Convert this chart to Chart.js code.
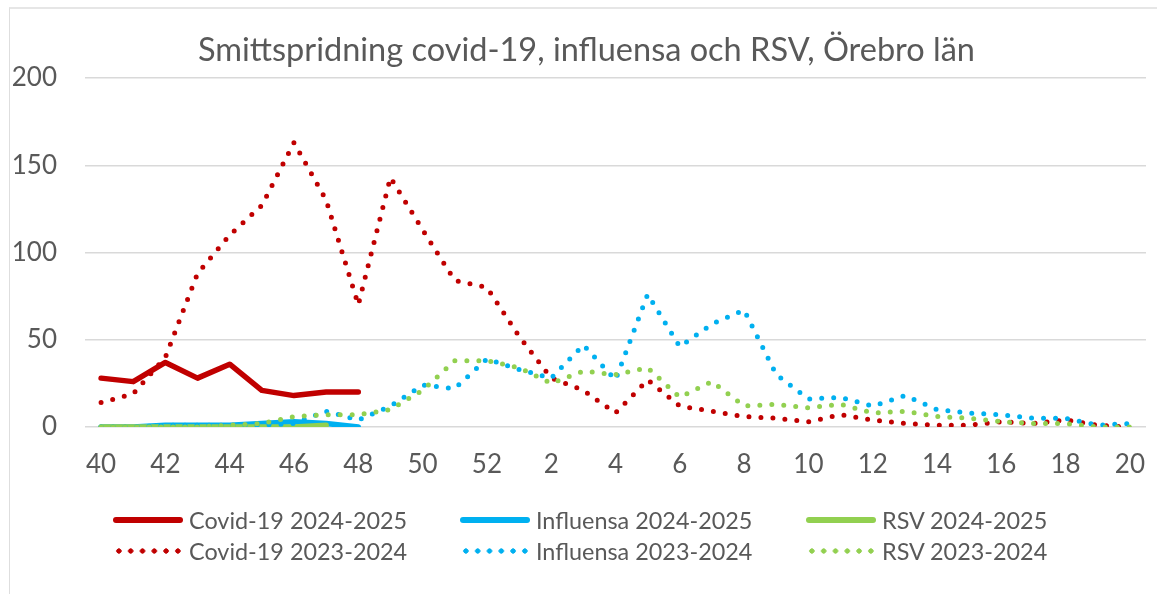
<!DOCTYPE html>
<html>
<head>
<meta charset="utf-8">
<script src="https://cdn.jsdelivr.net/npm/chart.js@4/dist/chart.umd.min.js"></script>
<style>
    html, body {margin: 0; padding: 0; background: #fff; overflow: hidden;}
    #frame {position: absolute; left: 9px; top: 7px; width: 1200px; height: 700px;
        border-left: 1px solid #dedede; border-top: 2px solid #e6e6e6;}
    #chart_smitta {position: absolute; left: 0; top: 0;}
    #legend {position: absolute; left: 0; top: 0; font-family: Lato, sans-serif; font-size: 23.4px; color: #595959;}
    #legend .item {position: absolute; display: flex; align-items: center; height: 30px; white-space: nowrap;}
    #legend .mark {width: 70px; height: 6px; margin-right: 6px;}
</style>
</head>
<body>
<div id="frame"></div>
<canvas id="chart_smitta" width="1157" height="594"></canvas>
<div id="legend"></div>
<script>
'use strict';

const WEEKS = ['40', '41', '42', '43', '44', '45', '46', '47', '48', '49', '50', '51', '52',
    '1', '2', '3', '4', '5', '6', '7', '8', '9', '10', '11', '12', '13', '14', '15', '16', '17', '18', '19', '20'];

const covid2425 = [28, 26, 37, 28, 36, 21, 18, 20, 20];
const influensa2425 = [0, 0, 1, 1, 1, 2, 3, 2, 0];
const rsv2425 = [0, 0, 0, 0, 0, 0, 0, 1];

const covid2324 = [14, 19, 40, 88, 110, 127, 163, 130, 70, 143, 113, 84, 80,
    52, 28, 21, 8, 27, 12, 9, 6, 5, 3, 7, 4, 2, 1, 1, 3, 2, 4, 1, 0];
const influensa2324 = [0, 0, 1, 1, 1, 1, 2, 9, 4, 12, 24, 22, 39,
    33, 28, 47, 27, 76, 46, 59, 67, 30, 16, 17, 12, 18, 10, 8, 7, 5, 5, 1, 2];
const rsv2324 = [0, 0, 0, 0, 1, 2, 6, 7, 7, 10, 21, 38, 38,
    34, 25, 32, 30, 34, 17, 26, 12, 13, 11, 13, 8, 9, 6, 5, 3, 2, 2, 0, 0];

const Y_TICKS = [0, 50, 100, 150, 200];

const COLORS = {
    red: '#c00000',
    blue: '#00b0f0',
    green: '#92d050',
    text: '#595959',
    grid: '#d9d9d9'
};

const FONT = 'Lato, "Open Sans", sans-serif';

// the title sits centred on the outer frame, not on the canvas
const titleShift = {
    id: 'titleShift',
    afterLayout(chart) {
        chart.titleBlock.left += 27;
    }
};

function makeDataset(label, data, color, dotted, order) {
    let ds = {
        label: label,
        data: data,
        borderColor: color,
        backgroundColor: color,
        borderWidth: dotted ? 5 : 5.5,
        borderCapStyle: 'round',
        borderJoinStyle: 'round',
        pointRadius: 0,
        pointHoverRadius: 0,
        tension: 0,
        fill: false,
        order: order,
        dotted: dotted
    };
    if (dotted) {
        ds.borderDash = [0, 12];
    }
    return ds;
}

function makeConfig() {
    let datasets = [
        makeDataset('Covid-19 2024-2025', covid2425, COLORS.red, false, 5),
        makeDataset('Influensa 2024-2025', influensa2425, COLORS.blue, false, 4),
        makeDataset('RSV 2024-2025', rsv2425, COLORS.green, false, 3),
        makeDataset('Covid-19 2023-2024', covid2324, COLORS.red, true, 2),
        makeDataset('Influensa 2023-2024', influensa2324, COLORS.blue, true, 1),
        makeDataset('RSV 2023-2024', rsv2324, COLORS.green, true, 0)
    ];
    return {
        type: 'line',
        data: {labels: WEEKS, datasets: datasets},
        plugins: [titleShift],
        options: {
            responsive: false,
            animation: false,
            devicePixelRatio: 1,
            layout: {padding: {left: 0, right: 11, top: 0, bottom: 0}},
            plugins: {
                legend: {display: false},
                tooltip: {enabled: false},
                title: {
                    display: true,
                    text: 'Smittspridning covid-19, influensa och RSV, Örebro län',
                    color: COLORS.text,
                    font: {family: FONT, size: 32.5, weight: 'normal'},
                    padding: {top: 31, bottom: 8}
                }
            },
            scales: {
                x: {
                    offset: true,
                    grid: {display: false, drawTicks: false},
                    border: {display: false},
                    ticks: {
                        autoSkip: false,
                        maxRotation: 0,
                        padding: 0,
                        color: COLORS.text,
                        // tall line box pushes the labels down without eating plot width
                        font: {family: FONT, size: 26, lineHeight: 2.9},
                        callback: (val, i) => i % 2 === 0 ? WEEKS[i] : ''
                    },
                    afterFit: scale => {
                        scale.height = 167;
                    }
                },
                y: {
                    min: 0,
                    max: 200,
                    grid: {color: COLORS.grid, lineWidth: 1.5, drawTicks: false},
                    border: {display: false},
                    afterBuildTicks: scale => {
                        scale.ticks = Y_TICKS.map(v => ({value: v}));
                    },
                    ticks: {
                        padding: 28,
                        color: COLORS.text,
                        font: {family: FONT, size: 26}
                    },
                    afterFit: scale => {
                        scale.width = 85;
                    }
                }
            }
        }
    };
}

function renderLegend(chart) {
    let box = document.getElementById('legend'),
        cols = [113, 460, 806],
        rows = [520, 551];
    chart.data.datasets.forEach((ds, i) => {
        let item = document.createElement('div'),
            mark = document.createElement('span'),
            text = document.createElement('span');
        item.className = 'item';
        item.style.left = cols[i % 3] + 'px';
        item.style.top = (rows[Math.floor(i / 3)] - 15) + 'px';
        mark.className = 'mark';
        if (ds.dotted) {
            mark.style.background = `radial-gradient(circle, ${ds.borderColor} 2.4px, transparent 2.9px) 0 0 / 11.8px 6px repeat-x`;
        } else {
            mark.style.background = ds.borderColor;
            mark.style.borderRadius = '3px';
        }
        text.textContent = ds.label;
        item.appendChild(mark);
        item.appendChild(text);
        box.appendChild(item);
    });
}

function renderChart() {
    let ctx = document.getElementById('chart_smitta').getContext('2d');
    window.ChartSmitta = new Chart(ctx, makeConfig());
    renderLegend(window.ChartSmitta);
}

renderChart();
</script>
</body>
</html>
